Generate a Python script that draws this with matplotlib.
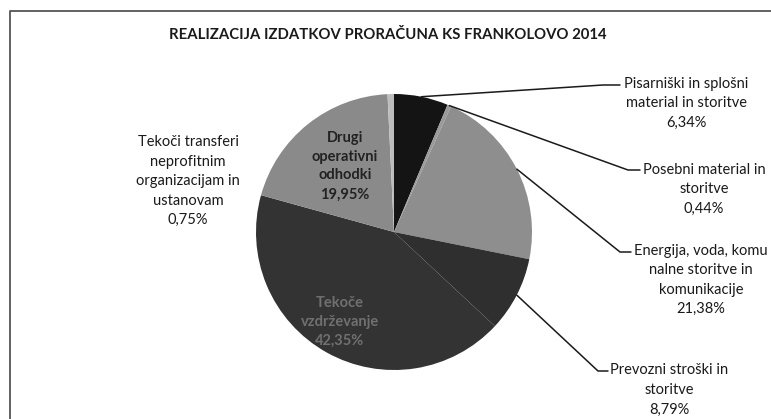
import numpy as np
import matplotlib.pyplot as plt

# data
labels = ["Pisarniški in splošni\nmaterial in storitve",
          "Posebni material in\nstoritve",
          "Energija, voda, komu\nnalne storitve in\nkomunikacije",
          "Prevozni stroški in\nstoritve",
          "Tekoče\nvzdrževanje",
          "Drugi\noperativni\nodhodki",
          "Tekoči transferi\nneprofitnim\norganizacijam in\nustanovam"]
shares = [6.34, 0.44, 21.38, 8.79, 42.35, 19.95, 0.75]
colors = ["#141414", "#9a9a9a", "#8e8e8e", "#2f2f2f", "#333333", "#8a8a8a", "#bdbdbd"]
title = "REALIZACIJA IZDATKOV PRORAČUNA KS FRANKOLOVO 2014"

W, H = 771, 419
plt.rcParams['font.family'] = ['Lato', 'DejaVu Sans']

fig = plt.figure(figsize=(W / 100, H / 100), dpi=100)
ax = fig.add_axes([0, 0, 1, 1])

def Y(y):
    return H - y

wedges, _ = ax.pie(shares, colors=colors, startangle=90, counterclock=False,
                   center=(394, Y(232)), radius=138,
                   wedgeprops=dict(linewidth=0))
ax.set_xlim(0, W)
ax.set_ylim(0, H)
ax.axis('off')

# frame: only top and left edges are visible in the scan
ax.plot([10, 10, W], [0, Y(11), Y(11)], color="#555555", lw=1.3)

ax.text(388, Y(35), title, ha='center', va='center', fontsize=10.7,
        fontweight='bold', color='#1a1a1a')

def pct(v):
    return f"{v:.2f}%".replace('.', ',')

# outside labels: (slice index, text center, elbow, tail end)
outside = [
    (0, (686, 103), (603, 85), (620, 85)),
    (1, (704, 189), (628, 170), (640, 170)),
    (2, (701, 280), (620, 252), (631, 252)),
    (3, (669, 390), (598, 371), (608, 371)),
]
for i, (tx, ty), (ex, ey), (fx, fy) in outside:
    w = wedges[i]
    mid = np.deg2rad((w.theta1 + w.theta2) / 2)
    px = w.center[0] + w.r * np.cos(mid)
    py = w.center[1] + w.r * np.sin(mid)
    ax.plot([px, ex, fx], [py, Y(ey), Y(fy)], color='#1a1a1a', lw=1.1,
            solid_capstyle='round')
    ax.text(tx, Y(ty), labels[i] + "\n" + pct(shares[i]), ha='center',
            va='center', fontsize=10.5, color='#1a1a1a', linespacing=1.5)

ax.text(188, Y(181), labels[6] + "\n" + pct(shares[6]), ha='center',
        va='center', fontsize=10.5, color='#1a1a1a', linespacing=1.5)

ax.text(345, Y(166), labels[5] + "\n" + pct(shares[5]), ha='center',
        va='center', fontsize=10.5, fontweight='bold', color='#222222',
        linespacing=1.45)
ax.text(340, Y(322), labels[4] + "\n" + pct(shares[4]), ha='center',
        va='center', fontsize=10.5, fontweight='bold', color='#707070',
        linespacing=1.45)

fig.savefig("out.png", dpi=100)
